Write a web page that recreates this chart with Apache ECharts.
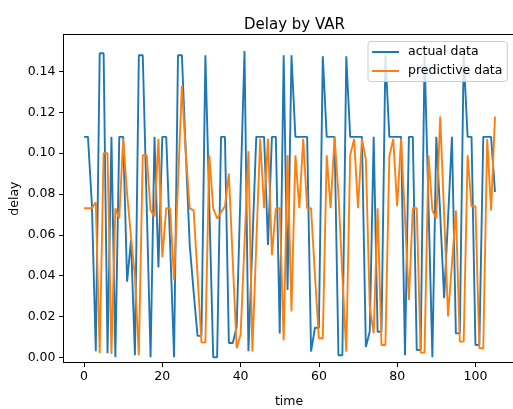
<!DOCTYPE html>
<html>
<head>
<meta charset="utf-8">
<script src="https://cdn.jsdelivr.net/npm/echarts@6/dist/echarts.min.js"></script>
<style>
html,body{margin:0;padding:0;background:#fff;}
#chart{width:513px;height:409px;}
</style>
</head>
<body>
<div id="chart"></div>
<script>
// ---- data ----
const actualData = [
  0.108, 0.108, 0.075, 0.003, 0.149, 0.149, 0.002, 0.108, 0.000, 0.108,
  0.108, 0.037, 0.0575, 0.001, 0.148, 0.148, 0.075, 0.000, 0.108, 0.044,
  0.108, 0.108, 0.055, 0.000, 0.148, 0.148, 0.100, 0.055, 0.032, 0.0105,
  0.0105, 0.148, 0.075, 0.000, 0.000, 0.108, 0.108, 0.007, 0.007, 0.015,
  0.083, 0.150, 0.003, 0.055, 0.108, 0.108, 0.108, 0.055, 0.108, 0.108,
  0.0117, 0.148, 0.033, 0.148, 0.108, 0.108, 0.108, 0.108, 0.0028, 0.0145,
  0.0145, 0.1475, 0.108, 0.108, 0.108, 0.001, 0.001, 0.1475, 0.108, 0.108,
  0.108, 0.108, 0.005, 0.0126, 0.108, 0.0125, 0.0125, 0.148, 0.108, 0.108,
  0.108, 0.108, 0.001, 0.108, 0.108, 0.0036, 0.0036, 0.148, 0.075, 0.000,
  0.108, 0.070, 0.029, 0.068, 0.108, 0.0117, 0.0117, 0.148, 0.108, 0.108,
  0.006, 0.006, 0.108, 0.108, 0.108, 0.081
];
const predictiveData = [
  0.073, 0.073, 0.073, 0.076, 0.002, 0.100, 0.100, 0.0016, 0.073, 0.068,
  0.107, 0.080, 0.059, 0.0395, 0.001, 0.099, 0.099, 0.072, 0.069, 0.107,
  0.049, 0.073, 0.073, 0.038, 0.085, 0.133, 0.100, 0.073, 0.072, 0.040,
  0.0073, 0.0073, 0.099, 0.073, 0.068, 0.071, 0.074, 0.090, 0.047, 0.0044,
  0.011, 0.056, 0.101, 0.0028, 0.055, 0.107, 0.073, 0.107, 0.050, 0.073,
  0.073, 0.0083, 0.099, 0.0224, 0.099, 0.073, 0.107, 0.073, 0.073, 0.040,
  0.0093, 0.0093, 0.099, 0.073, 0.108, 0.080, 0.040, 0.0028, 0.099, 0.107,
  0.073, 0.107, 0.097, 0.025, 0.0117, 0.073, 0.006, 0.006, 0.0985, 0.107,
  0.074, 0.107, 0.068, 0.028, 0.073, 0.073, 0.0023, 0.0023, 0.099, 0.072,
  0.068, 0.118, 0.070, 0.020, 0.046, 0.072, 0.0077, 0.0077, 0.099, 0.074,
  0.074, 0.0044, 0.0044, 0.107, 0.072, 0.118
];
const xTicks = [0, 20, 40, 60, 80, 100];
const yTicks = [0.00, 0.02, 0.04, 0.06, 0.08, 0.10, 0.12, 0.14];
const seriesNames = ['actual data', 'predictive data'];
const titleText = 'Delay by VAR';
const xName = 'time';
const yName = 'delay';

const toPairs = arr => arr.map((v, i) => [i, v]);
const FONT = 'DejaVu Sans';
const X_MIN = -5.25, X_MAX = 109.98;

const chart = echarts.init(document.getElementById('chart'), null, {renderer: 'canvas'});
chart.setOption({
  animation: false,
  backgroundColor: '#ffffff',
  textStyle: {fontFamily: FONT},
  title: {
    text: titleText,
    left: 289.5, top: 13, textAlign: 'center',
    textStyle: {fontFamily: FONT, fontSize: 15, fontWeight: 'normal', color: '#000'}
  },
  grid: {
    left: 63.5, top: 34.5, width: 451, height: 328.2,
    show: false, containLabel: false, outerBoundsMode: 'none'
  },
  legend: {
    orient: 'vertical', left: 368, top: 41.5,
    data: seriesNames,
    icon: 'rect', itemWidth: 27, itemHeight: 2, itemGap: 6,
    padding: [4, 5, 4, 4],
    backgroundColor: 'rgba(255,255,255,0.8)', borderColor: '#cccccc', borderWidth: 1, borderRadius: 3,
    textStyle: {fontFamily: FONT, fontSize: 12.5, color: '#000', padding: [0, 0, 0, 4]}
  },
  xAxis: [{
    type: 'value', min: X_MIN, max: X_MAX, position: 'bottom',
    name: xName, nameLocation: 'middle', nameGap: 33,
    nameTextStyle: {fontFamily: FONT, fontSize: 12.5, color: '#000'},
    axisLine: {show: true, onZero: false, lineStyle: {color: '#000', width: 1}},
    axisTick: {show: true, length: 4.4, lineStyle: {color: '#000', width: 1}, customValues: xTicks},
    axisLabel: {show: true, margin: 8, fontFamily: FONT, fontSize: 12.5, color: '#000', customValues: xTicks,
      formatter: v => String(v)},
    splitLine: {show: false}
  }, {
    type: 'value', min: X_MIN, max: X_MAX, position: 'top',
    axisLine: {show: true, onZero: false, lineStyle: {color: '#000', width: 1}},
    axisTick: {show: false}, axisLabel: {show: false}, splitLine: {show: false}
  }],
  yAxis: {
    type: 'value', min: -0.00265, max: 0.15815,
    name: yName, nameLocation: 'middle', nameGap: 42, nameRotate: 90, nameMoveOverlap: false,
    nameTextStyle: {fontFamily: FONT, fontSize: 12.5, color: '#000'},
    axisLine: {show: true, onZero: false, lineStyle: {color: '#000', width: 1}},
    axisTick: {show: true, length: 4.4, lineStyle: {color: '#000', width: 1}, customValues: yTicks},
    axisLabel: {show: true, margin: 8, fontFamily: FONT, fontSize: 12.5, color: '#000', customValues: yTicks,
      formatter: v => v.toFixed(2)},
    splitLine: {show: false}
  },
  series: [
    {
      name: seriesNames[0], type: 'line', data: toPairs(actualData), xAxisIndex: 0,
      showSymbol: false, symbol: 'none', clip: true,
      lineStyle: {color: '#1f77b4', width: 1.9}, itemStyle: {color: '#1f77b4'}, z: 2
    },
    {
      name: seriesNames[1], type: 'line', data: toPairs(predictiveData), xAxisIndex: 0,
      showSymbol: false, symbol: 'none', clip: true,
      lineStyle: {color: '#ff7f0e', width: 1.9}, itemStyle: {color: '#ff7f0e'}, z: 3
    }
  ]
});
</script>
</body>
</html>
